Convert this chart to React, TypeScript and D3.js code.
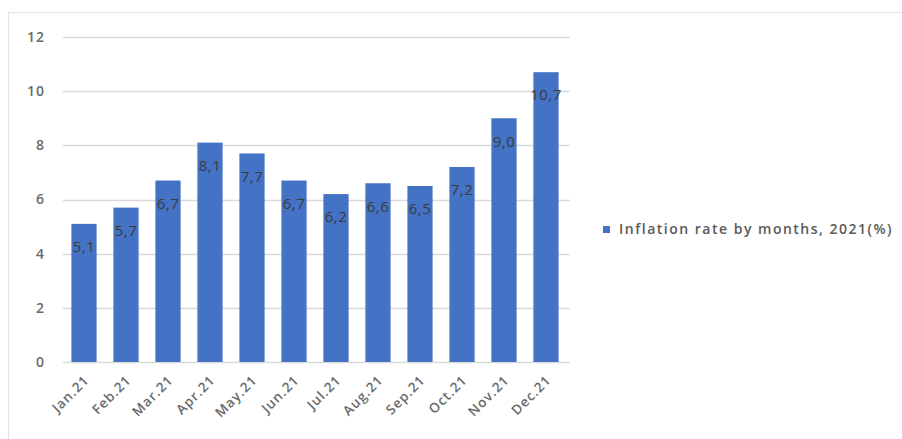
import { useEffect, useRef } from "react";
import * as d3 from "d3";

const months = ["Jan.21", "Feb.21", "Mar.21", "Apr.21", "May.21", "Jun.21", "Jul.21", "Aug.21", "Sep.21", "Oct.21", "Nov.21", "Dec.21"];
const inflation = [5.1, 5.7, 6.7, 8.1, 7.7, 6.7, 6.2, 6.6, 6.5, 7.2, 9.0, 10.7];
const yTicks = [0, 2, 4, 6, 8, 10, 12];
const seriesName = "Inflation rate by months, 2021(%)";

export default function App() {
  const svgRef = useRef<SVGSVGElement | null>(null);

  useEffect(() => {
    if (!svgRef.current) return;
    const width = 902;
    const height = 439;
    const plot = { left: 63, right: 567, top: 37, bottom: 362 };
    const font = "'Open Sans', sans-serif";

    const svg = d3.select(svgRef.current);
    svg.selectAll("*").remove();

    svg.append("rect").attr("width", width).attr("height", height).attr("fill", "#fff");

    // chart frame
    svg
      .append("rect")
      .attr("x", 8.5)
      .attr("y", 12.5)
      .attr("width", width)
      .attr("height", height)
      .attr("fill", "none")
      .attr("stroke", "#e2e2e2");

    const x = d3.scaleBand<string>().domain(months).range([plot.left, plot.right]).paddingInner(0.4).paddingOuter(0.2);
    const y = d3.scaleLinear().domain([0, 12]).range([plot.bottom, plot.top]);

    // gridlines
    svg
      .append("g")
      .selectAll("line")
      .data(yTicks)
      .join("line")
      .attr("x1", plot.left)
      .attr("x2", plot.right + 3)
      .attr("y1", (d) => Math.round(y(d)) + 0.5)
      .attr("y2", (d) => Math.round(y(d)) + 0.5)
      .attr("stroke", "#d9d9d9")
      .attr("stroke-width", 1.4);

    svg
      .append("g")
      .selectAll("text")
      .data(yTicks)
      .join("text")
      .attr("x", 45)
      .attr("y", (d) => y(d))
      .attr("dy", "0.35em")
      .attr("text-anchor", "end")
      .attr("font-family", font)
      .attr("font-size", 14)
      .attr("font-weight", 600)
      .attr("letter-spacing", 1)
      .attr("fill", "#6a6a6a")
      .text((d) => String(d));

    // bars
    svg
      .append("g")
      .selectAll("rect")
      .data(inflation)
      .join("rect")
      .attr("x", (_, i) => x(months[i]) as number)
      .attr("y", (d) => y(d))
      .attr("width", x.bandwidth())
      .attr("height", (d) => y(0) - y(d))
      .attr("fill", "#4472c4");

    // value labels
    svg
      .append("g")
      .selectAll("text")
      .data(inflation)
      .join("text")
      .attr("x", (_, i) => (x(months[i]) as number) + x.bandwidth() / 2)
      .attr("y", (d) => y(d) + 23)
      .attr("dy", "0.35em")
      .attr("text-anchor", "middle")
      .attr("font-family", font)
      .attr("font-size", 15)
      .attr("letter-spacing", 0.5)
      .attr("fill", "#3b3b3b")
      .text((d) => d.toFixed(1).replace(".", ","));

    // x labels
    svg
      .append("g")
      .selectAll("text")
      .data(months)
      .join("text")
      .attr("transform", (d) => `translate(${(x(d) as number) + x.bandwidth() / 2 + 6},${plot.bottom + 19}) rotate(-45)`)
      .attr("text-anchor", "end")
      .attr("font-family", font)
      .attr("font-size", 13.5)
      .attr("font-weight", 600)
      .attr("letter-spacing", 1)
      .attr("fill", "#6a6a6a")
      .text((d) => d);

    // legend
    const legend = svg.append("g").attr("transform", "translate(603,226)");
    legend.append("rect").attr("width", 7).attr("height", 7).attr("fill", "#4472c4");
    legend
      .append("text")
      .attr("x", 16)
      .attr("y", 3.5)
      .attr("dy", "0.35em")
      .attr("font-family", font)
      .attr("font-size", 14)
      .attr("font-weight", 600)
      .attr("letter-spacing", 1.5)
      .attr("fill", "#595959")
      .text(seriesName);
  }, []);

  return (
    <svg
      ref={svgRef}
      width={902}
      height={439}
      style={{ position: "absolute", left: 0, top: 0, display: "block" }}
    ></svg>
  );
}
